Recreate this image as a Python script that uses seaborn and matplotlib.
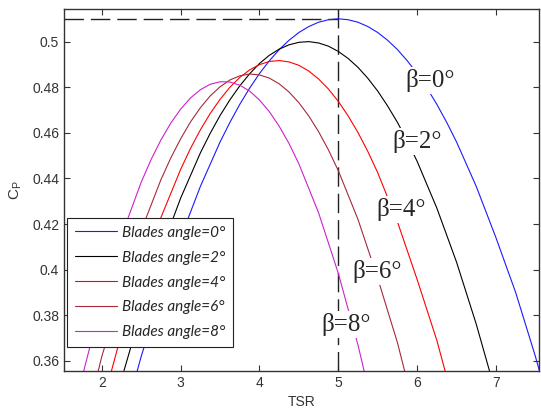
import seaborn as sns
import matplotlib.pyplot as plt
import pandas as pd

# Cp vs TSR curves
tsr_b0 = [2.25, 2.5, 2.75, 3.0, 3.25, 3.5, 3.625, 3.75, 3.875, 4.0, 4.125, 4.25,
          4.375, 4.5, 4.625, 4.75, 4.875, 5.0, 5.125, 5.25, 5.375, 5.5, 5.625, 5.75,
          5.875, 6.0, 6.125, 6.25, 6.375, 6.5, 6.75, 7.0, 7.25, 7.5, 7.75]
cp_b0 = [0.331, 0.362, 0.390, 0.414, 0.4365, 0.456, 0.4646, 0.4725, 0.4796, 0.486, 0.4916, 0.4965,
         0.5006, 0.504, 0.5066, 0.5085, 0.5096, 0.510, 0.5096, 0.5085, 0.5066, 0.504, 0.5006, 0.4965,
         0.4916, 0.486, 0.4796, 0.4725, 0.4646, 0.456, 0.4365, 0.414, 0.390, 0.362, 0.331]

tsr_b2 = [2.0, 2.25, 2.5, 2.75, 3.0, 3.25, 3.375, 3.5, 3.625, 3.75, 3.875, 4.0,
          4.125, 4.25, 4.375, 4.5, 4.625, 4.75, 4.875, 5.0, 5.125, 5.25, 5.375, 5.5,
          5.625, 5.75, 5.875, 6.0, 6.25, 6.5, 6.75, 7.0, 7.25]
cp_b2 = [0.3188, 0.352, 0.3818, 0.4083, 0.4314, 0.4512, 0.4598, 0.4676, 0.4745, 0.4806, 0.4859, 0.4904,
         0.494, 0.4967, 0.4986, 0.4997, 0.5000, 0.4994, 0.498, 0.4957, 0.4926, 0.4887, 0.4839, 0.4783,
         0.4718, 0.4646, 0.4564, 0.4475, 0.427, 0.4033, 0.3761, 0.3456, 0.3118]

tsr_b4 = [1.75, 2.0, 2.25, 2.5, 2.75, 3.0, 3.125, 3.25, 3.375, 3.5, 3.625, 3.75,
          3.875, 4.0, 4.125, 4.25, 4.375, 4.5, 4.625, 4.75, 4.875, 5.0, 5.125, 5.25,
          5.375, 5.5, 5.75, 6.0, 6.25, 6.5]
cp_b4 = [0.3035, 0.340, 0.372, 0.3978, 0.4229, 0.4440, 0.4532, 0.4613, 0.4685, 0.4747, 0.48, 0.4843,
         0.4876, 0.4899, 0.4913, 0.4917, 0.4911, 0.4896, 0.4871, 0.4836, 0.4792, 0.4738, 0.4674, 0.4601,
         0.4518, 0.4425, 0.4210, 0.3957, 0.369, 0.337]

tsr_b6 = [1.5, 1.75, 2.0, 2.25, 2.5, 2.75, 2.875, 3.0, 3.125, 3.25, 3.375, 3.5,
          3.625, 3.75, 3.875, 4.0, 4.125, 4.25, 4.375, 4.5, 4.625, 4.75, 4.875, 5.0,
          5.25, 5.5, 5.75, 6.0]
cp_b6 = [0.288, 0.327, 0.362, 0.3905, 0.4172, 0.4395, 0.449, 0.4574, 0.4648, 0.471, 0.4762, 0.4802,
         0.4832, 0.485, 0.4858, 0.4854, 0.484, 0.4815, 0.4779, 0.4732, 0.4674, 0.4605, 0.4525, 0.4434,
         0.422, 0.3962, 0.368, 0.334]

tsr_b8 = [1.5, 1.75, 2.0, 2.25, 2.5, 2.625, 2.75, 2.875, 3.0, 3.125, 3.25, 3.375,
          3.5, 3.625, 3.75, 3.875, 4.0, 4.125, 4.25, 4.375, 4.5, 4.75, 5.0, 5.25, 5.5]
cp_b8 = [0.3144, 0.3529, 0.3864, 0.4149, 0.4384, 0.4483, 0.4569, 0.4643, 0.4704, 0.4753, 0.4789, 0.4813,
         0.4824, 0.4823, 0.4809, 0.4783, 0.4744, 0.4693, 0.4629, 0.4553, 0.4464, 0.4249, 0.3984, 0.3669, 0.3304]

angles = [0, 2, 4, 6, 8]
colors = ['#1a1aff', '#000000', '#ff0000', '#a52a3a', '#cc22cc']
curves = [(tsr_b0, cp_b0), (tsr_b2, cp_b2), (tsr_b4, cp_b4), (tsr_b6, cp_b6), (tsr_b8, cp_b8)]

# beta label positions (TSR, Cp)
label_x = [6.17, 5.995, 5.80, 5.486, 5.10]
label_y = [0.483, 0.456, 0.4262, 0.3992, 0.376]

peak_tsr = 5.0
peak_cp = 0.51

sns.set_style('ticks')
plt.rcParams['font.family'] = ['Liberation Sans', 'DejaVu Sans']

fig = plt.figure(figsize=(5.41, 4.13), dpi=100)
ax = fig.add_axes([0.1183, 0.1024, 0.8786, 0.8758])

handles = []
for ang, col, (xs, ys) in zip(angles, colors, curves):
    df = pd.DataFrame({'TSR': xs, 'Cp': ys})
    sns.lineplot(data=df, x='TSR', y='Cp', ax=ax, color=col, linewidth=0.8, legend=False)
    handles.append(ax.lines[-1])
labels = ['Blades angle=%d°' % a for a in angles]

xlim = (1.52, 7.55)
ylim = (0.3557, 0.5143)
ax.set_xlim(*xlim)
ax.set_ylim(*ylim)

ax.hlines(peak_cp, xlim[0], peak_tsr, colors='#222222', linewidth=1.0,
          linestyles=(0, (14, 5)), zorder=1)
ax.vlines(peak_tsr, ylim[0], ylim[1], colors='#222222', linewidth=1.0,
          linestyles=(0, (14, 5)), zorder=1)

for ang, lx, ly in zip(angles, label_x, label_y):
    ax.text(lx, ly, 'β=%d°' % ang, fontsize=18, family=['Liberation Serif', 'DejaVu Serif'],
            ha='center', va='center', zorder=5,
            bbox=dict(facecolor='white', edgecolor='none', pad=1.5))

ax.set_xticks([2, 3, 4, 5, 6, 7])
ax.set_yticks([0.36, 0.38, 0.40, 0.42, 0.44, 0.46, 0.48, 0.50])
ax.set_yticklabels(['0.36', '0.38', '0.4', '0.42', '0.44', '0.46', '0.48', '0.5'])
ax.tick_params(direction='in', top=True, right=True, length=4, width=0.8,
               labelsize=10, labelcolor='#333333', color='#333333')
for sp in ax.spines.values():
    sp.set_color('#333333')
    sp.set_linewidth(1.0)

ax.set_xlabel('TSR', fontsize=10, color='#333333', labelpad=4)
ax.set_ylabel('C$_\\mathregular{P}$', fontsize=11, color='#333333', labelpad=6)

leg = ax.legend(handles, labels, loc='lower left', bbox_to_anchor=(0.007, 0.066),
                borderaxespad=0, fancybox=False, framealpha=1, edgecolor='#222222',
                handlelength=2.75, handletextpad=0.35, labelspacing=0.71, borderpad=0.5,
                prop={'family': ['Lato', 'DejaVu Sans'], 'style': 'italic', 'size': 11})
leg.get_frame().set_linewidth(0.8)
leg.set_zorder(6)

fig.savefig('out.png', dpi=100)
